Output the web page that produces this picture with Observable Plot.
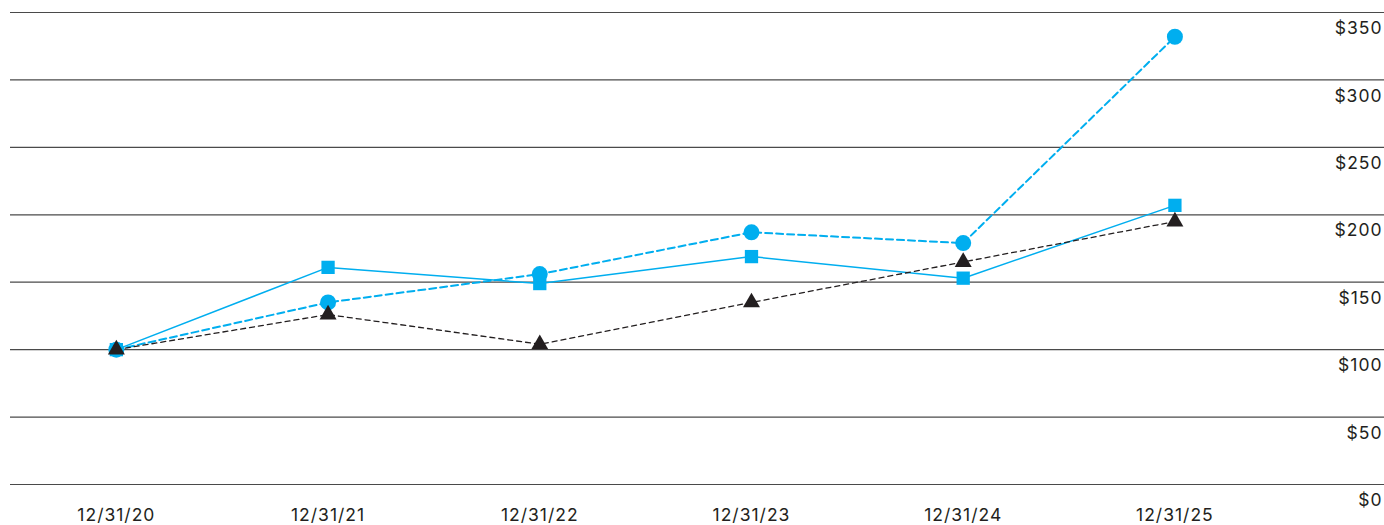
<!DOCTYPE html>
<html>
<head>
<meta charset="utf-8">
<script src="https://cdn.jsdelivr.net/npm/d3@7"></script>
<script src="https://cdn.jsdelivr.net/npm/@observablehq/plot@0.6"></script>
<style>
  html, body { margin: 0; padding: 0; background: #fff; }
  #chart svg { display: block; }
  #chart svg text { letter-spacing: 1px; }
</style>
</head>
<body>
<div id="chart"></div>
<script>
const dates = ["12/31/20", "12/31/21", "12/31/22", "12/31/23", "12/31/24", "12/31/25"];
const squareSeries = [100, 161, 149, 169, 153, 207];
const circleSeries = [100, 135, 156, 187, 179, 332];
const triangleSeries = [100, 126, 104, 135, 165, 195];
const yTicks = [0, 50, 100, 150, 200, 250, 300, 350];
const yTickLabels = ["$0", "$50", "$100", "$150", "$200", "$250", "$300", "$350"];

const cyan = "#00AEEF";
const dark = "#231F20";

const rows = (vals) => vals.map((v, i) => ({i, v, date: dates[i]}));
const sq = rows(squareSeries), ci = rows(circleSeries), tr = rows(triangleSeries);
const yt = yTicks.map((v, k) => ({v, label: yTickLabels[k]}));
const xt = dates.map((d, i) => ({i, d}));

const chart = Plot.plot({
  width: 1384,
  height: 525,
  marginLeft: 10,
  marginRight: 0,
  marginTop: 12,
  marginBottom: 41,
  style: {fontFamily: "Inter, 'Noto Sans', sans-serif", fontSize: "17px", color: dark, background: "#fff"},
  x: {type: "linear", domain: [-0.5, 5.99], axis: null},
  y: {domain: [0, 350], axis: null},
  marks: [
    Plot.ruleY(yTicks, {stroke: "#4a4a4a", strokeWidth: 1.2}),
    Plot.text(yt, {y: "v", text: "label", frameAnchor: "right", textAnchor: "end", dx: -2, dy: 16, fill: dark, fontSize: 17.5}),
    Plot.text(xt, {x: "i", y: 0, text: "d", dy: 31, fill: dark, fontSize: 17.5}),
    Plot.line(sq, {x: "i", y: "v", stroke: cyan, strokeWidth: 1.5}),
    Plot.line(ci, {x: "i", y: "v", stroke: cyan, strokeWidth: 2, strokeDasharray: "7,4"}),
    Plot.line(tr, {x: "i", y: "v", stroke: dark, strokeWidth: 1.3, strokeDasharray: "5,4"}),
    Plot.dot(sq, {x: "i", y: "v", symbol: "square", r: 7.5, fill: cyan, stroke: "none"}),
    Plot.dot(ci, {x: "i", y: "v", symbol: "circle", r: 8, fill: cyan, stroke: "none"}),
    Plot.dot(tr, {x: "i", y: "v", symbol: "triangle", r: 6.3, fill: dark, stroke: "none"})
  ]
});
document.getElementById("chart").appendChild(chart);
</script>
</body>
</html>
